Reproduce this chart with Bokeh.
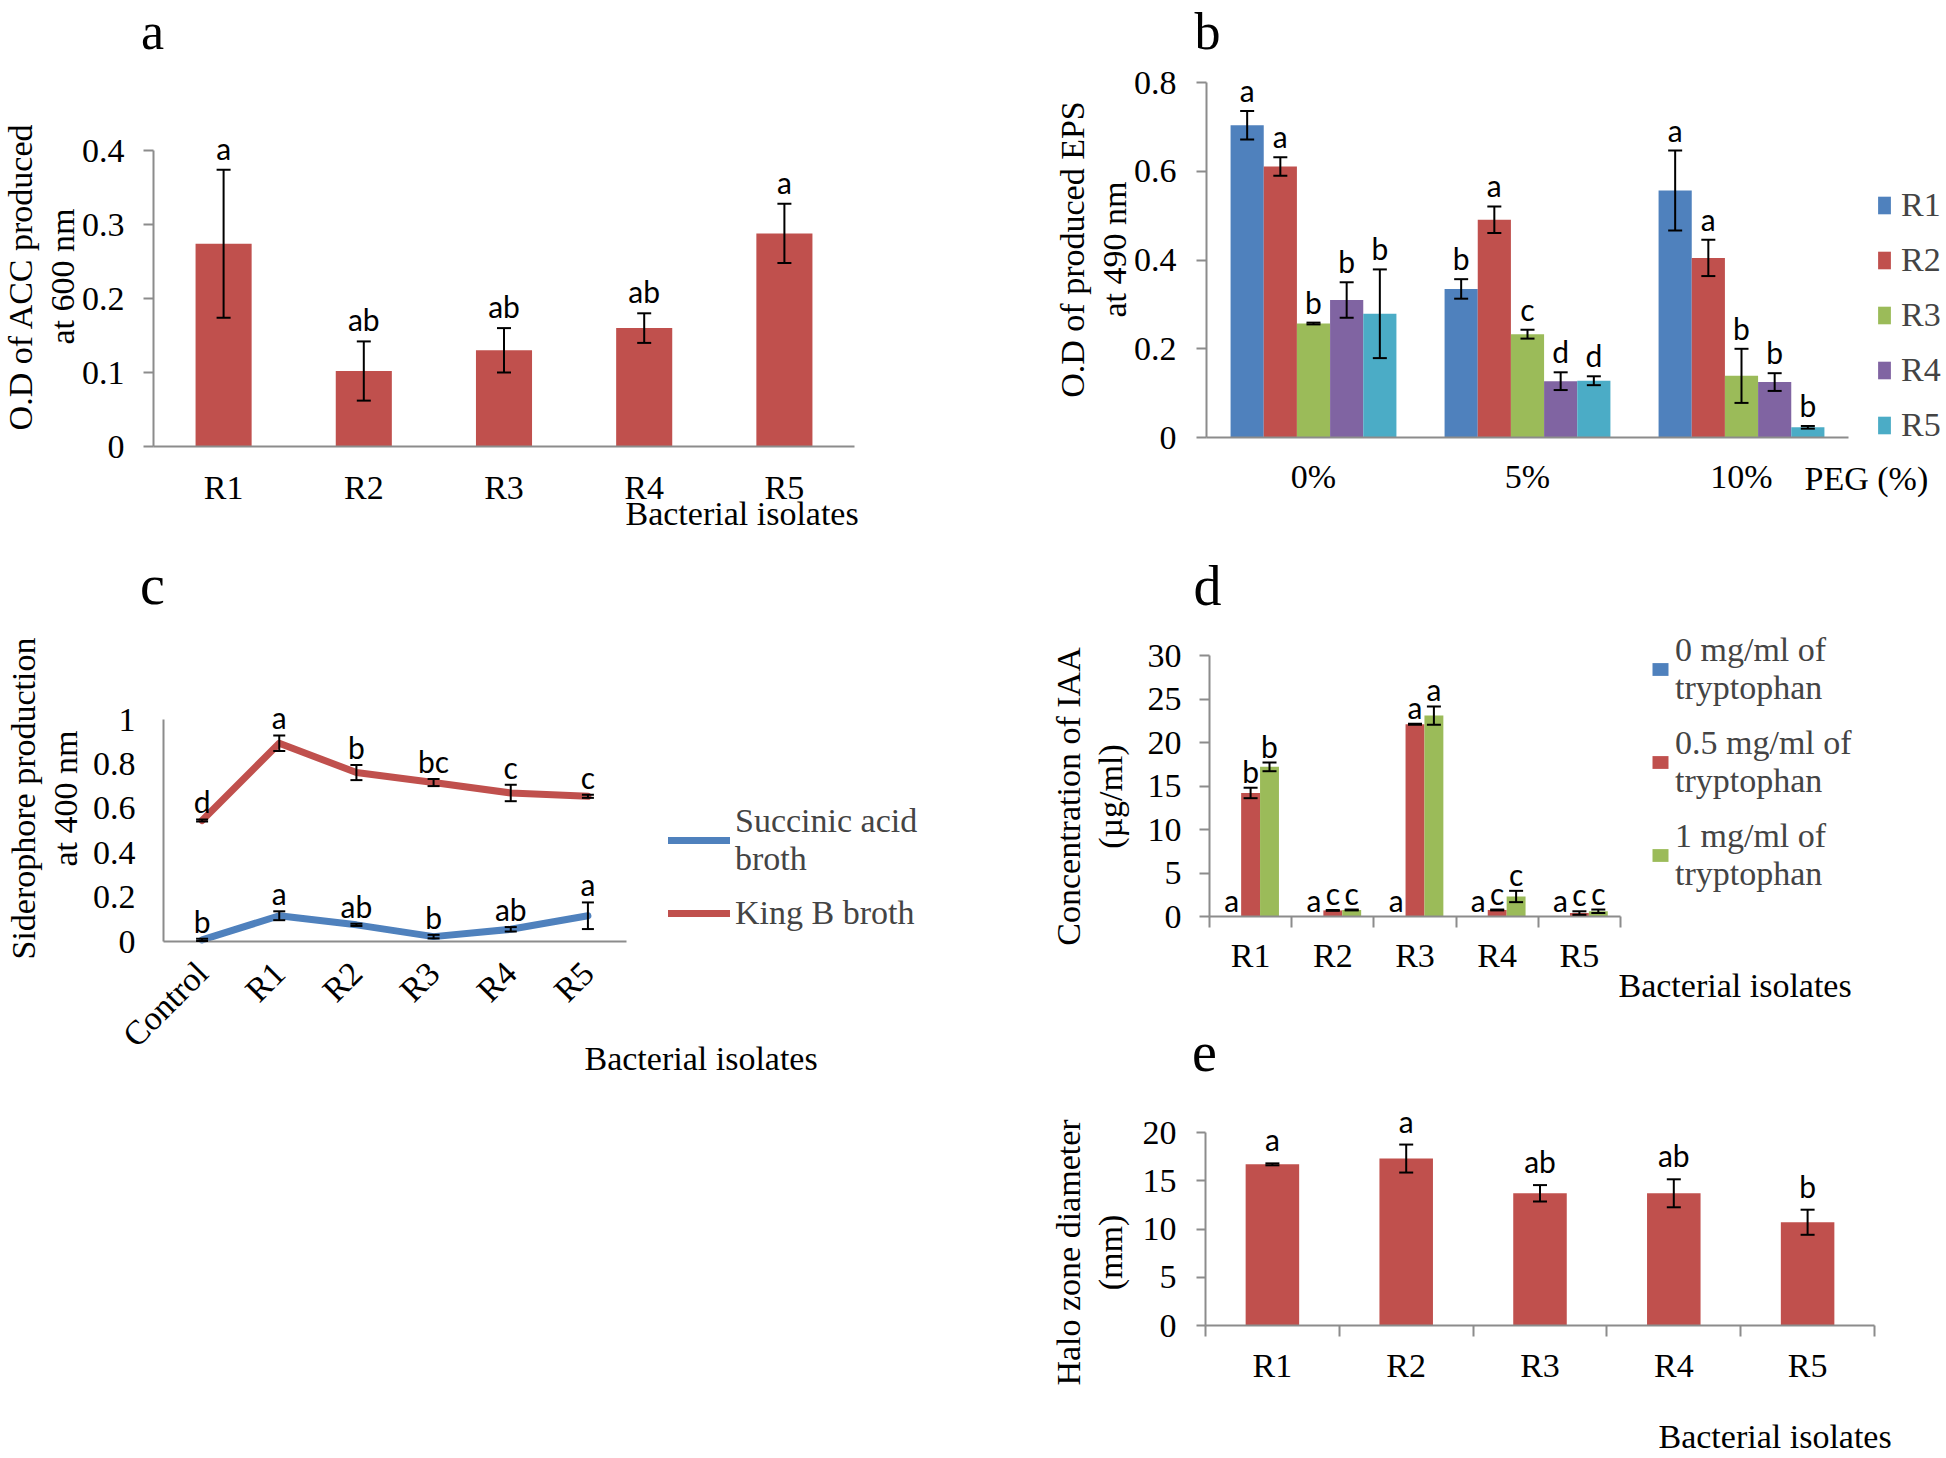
import math
from bokeh.plotting import figure
from bokeh.models import (Range1d, FixedTicker, Whisker, TeeHead, ColumnDataSource,
                          Label, Legend, LegendItem)
from bokeh.layouts import row, column
from bokeh.core.properties import value
from bokeh.embed import file_html
from bokeh.resources import INLINE

# ---------------- data ----------------
# (a) ACC
a_cats = ["R1", "R2", "R3", "R4", "R5"]
a_vals = [0.274, 0.102, 0.130, 0.160, 0.288]
a_err = [0.100, 0.040, 0.030, 0.020, 0.040]
a_sig = ["a", "ab", "ab", "ab", "a"]
a_yticks = [0, 0.1, 0.2, 0.3, 0.4]
a_yticklabels = ["0", "0.1", "0.2", "0.3", "0.4"]

# (b) EPS
b_cats = ["0%", "5%", "10%"]
b_series = ["R1", "R2", "R3", "R4", "R5"]
b_R1 = [0.704, 0.335, 0.557]
b_R2 = [0.611, 0.491, 0.405]
b_R3 = [0.257, 0.233, 0.139]
b_R4 = [0.310, 0.127, 0.125]
b_R5 = [0.279, 0.128, 0.023]
b_R1_err = [0.032, 0.022, 0.090]
b_R2_err = [0.021, 0.030, 0.041]
b_R3_err = [0.002, 0.010, 0.061]
b_R4_err = [0.040, 0.020, 0.020]
b_R5_err = [0.100, 0.010, 0.003]
b_R1_sig = ["a", "b", "a"]
b_R2_sig = ["a", "a", "a"]
b_R3_sig = ["b", "c", "b"]
b_R4_sig = ["b", "d", "b"]
b_R5_sig = ["b", "d", "b"]
b_yticks = [0, 0.2, 0.4, 0.6, 0.8]
b_yticklabels = ["0", "0.2", "0.4", "0.6", "0.8"]

# (c) Siderophore
c_cats = ["Control", "R1", "R2", "R3", "R4", "R5"]
c_succ = [0.007, 0.116, 0.075, 0.022, 0.055, 0.116]
c_succ_err = [0.005, 0.020, 0.005, 0.008, 0.010, 0.060]
c_succ_sig = ["b", "a", "ab", "b", "ab", "a"]
c_king = [0.545, 0.893, 0.761, 0.716, 0.669, 0.654]
c_king_err = [0.005, 0.035, 0.034, 0.016, 0.037, 0.007]
c_king_sig = ["d", "a", "b", "bc", "c", "c"]
c_yticks = [0, 0.2, 0.4, 0.6, 0.8, 1]
c_yticklabels = ["0", "0.2", "0.4", "0.6", "0.8", "1"]

# (d) IAA
d_cats = ["R1", "R2", "R3", "R4", "R5"]
d_series = ["0 mg/ml of\ntryptophan", "0.5 mg/ml of\ntryptophan", "1 mg/ml of\ntryptophan"]
d_t0 = [0, 0, 0, 0, 0]
d_t05 = [14.2, 0.70, 22.1, 0.75, 0.40]
d_t1 = [17.2, 0.75, 23.1, 2.30, 0.60]
d_t0_err = [0, 0, 0, 0, 0]
d_t05_err = [0.60, 0.05, 0.05, 0.05, 0.20]
d_t1_err = [0.50, 0.05, 1.05, 0.65, 0.20]
d_t0_sig = ["a", "a", "a", "a", "a"]
d_t05_sig = ["b", "c", "a", "c", "c"]
d_t1_sig = ["b", "c", "a", "c", "c"]
d_yticks = [0, 5, 10, 15, 20, 25, 30]
d_yticklabels = ["0", "5", "10", "15", "20", "25", "30"]

# (e) Halo zone
e_cats = ["R1", "R2", "R3", "R4", "R5"]
e_vals = [16.7, 17.3, 13.7, 13.7, 10.7]
e_err = [0.10, 1.45, 0.85, 1.45, 1.30]
e_sig = ["a", "a", "ab", "ab", "b"]
e_yticks = [0, 5, 10, 15, 20]
e_yticklabels = ["0", "5", "10", "15", "20"]

# ---------------- styling ----------------
FONT = "Liberation Serif"
SIG_FONT = "Lato"
AXIS_COLOR = "#8C8C8C"
BLUE, RED, GREEN, PURPLE, CYAN = "#4F81BD", "#C0504D", "#9BBB59", "#8064A2", "#4BACC6"


def make_panel(box, L, R, n, Z, ppu):
    """box: figure box in page px; L/R: x-axis ends; Z: y of value 0; ppu: px per unit."""
    bx, by, bw, bh = box
    ppx = (R - L) / n
    x0 = -0.5 - (L - bx) / ppx
    x1 = -0.5 + (bx + bw - L) / ppx
    y0 = (Z - (by + bh)) / ppu
    y1 = (Z - by) / ppu
    p = figure(width=bw, height=bh, x_range=Range1d(x0, x1), y_range=Range1d(y0, y1),
               output_backend="svg", toolbar_location=None,
               min_border_left=0, min_border_right=0, min_border_top=0, min_border_bottom=0)
    p.xgrid.visible = False
    p.ygrid.visible = False
    p.outline_line_color = None
    g = dict(bx=bx, by=by, bw=bw, bh=bh, L=L, ppx=ppx, Z=Z, ppu=ppu, n=n)
    return p, g


def at(g, px, py):
    return -0.5 + (px - g["L"]) / g["ppx"], (g["Z"] - py) / g["ppu"]


def add_text(p, g, px, py, text, size="34px", font=FONT, align="left", baseline="middle",
             angle=0.0):
    x, y = at(g, px, py)
    p.add_layout(Label(x=x, y=y, text=text, text_font=font, text_font_size=size,
                       text_align=align, text_baseline=baseline, text_color="black",
                       angle=angle, text_line_height=1.15))


def style_axes(p, g, xlabels, yticks, ylabels, ytick_out=10, ystand=18,
               xstand=20, minor=False, xorient="horizontal"):
    n = g["n"]
    xa, ya = p.xaxis[0], p.yaxis[0]
    for ax in (xa, ya):
        ax.axis_line_color = AXIS_COLOR
        ax.axis_line_width = 2
        ax.major_tick_line_color = AXIS_COLOR
        ax.major_tick_line_width = 2
        ax.minor_tick_line_color = None
        ax.major_label_text_font = FONT
        ax.major_label_text_font_size = "34px"
        ax.major_label_text_color = "black"
    xticks = list(range(n))
    bnds = [i - 0.5 for i in range(n + 1)]
    xa.ticker = FixedTicker(ticks=xticks, minor_ticks=bnds if minor else [])
    xa.major_label_overrides = {t: s for t, s in zip(xticks, xlabels)}
    xa.major_tick_out = 0
    xa.major_tick_in = 0
    xa.major_label_standoff = xstand
    xa.major_label_orientation = xorient
    xa.fixed_location = 0
    xa.bounds = (-0.5, n - 0.5)
    if minor:
        xa.minor_tick_line_color = AXIS_COLOR
        xa.minor_tick_line_width = 2
        xa.minor_tick_out = 11
        xa.minor_tick_in = 0
    ya.ticker = FixedTicker(ticks=list(yticks))
    ya.major_label_overrides = {t: s for t, s in zip(yticks, ylabels)}
    ya.bounds = (yticks[0], yticks[-1])
    ya.fixed_location = -0.5
    ya.major_tick_out = ytick_out
    ya.major_tick_in = 0
    ya.major_label_standoff = ystand


def add_err(p, xs, vals, errs, head=14):
    keep = [i for i, e in enumerate(errs) if e > 0]
    src = ColumnDataSource(dict(x=[xs[i] for i in keep],
                                lo=[vals[i] - errs[i] for i in keep],
                                hi=[vals[i] + errs[i] for i in keep]))
    w = Whisker(source=src, base="x", upper="hi", lower="lo", dimension="height",
                line_color="black", line_width=2, level="annotation",
                upper_head=TeeHead(size=head, line_color="black", line_width=2),
                lower_head=TeeHead(size=head, line_color="black", line_width=2))
    p.add_layout(w)


def add_sig(p, xs, vals, errs, texts, yoff=-10, size="30px"):
    src = ColumnDataSource(dict(x=list(xs), y=[v + e for v, e in zip(vals, errs)], t=texts))
    p.text(x="x", y="y", text="t", source=src, text_font=value(SIG_FONT),
           text_font_size=size, text_align="center", text_baseline="alphabetic",
           y_offset=yoff, text_color="black")


def legend_at(g, items, left_px, bottom_px, line_height=1.3, **kw):
    loc = (left_px - g["bx"], g["by"] + g["bh"] - bottom_px)
    return Legend(items=items, location=loc, padding=0, margin=0, label_text_font=FONT,
                  label_text_font_size="34px", border_line_color=None,
                  background_fill_alpha=0, label_text_line_height=line_height, **kw)


ROT = math.pi / 2

# ---------------- panel a ----------------
pa, ga = make_panel((0, 0, 960, 540), 153, 854, len(a_cats), 446, 740)
xa_pos = list(range(len(a_cats)))
pa.vbar(x=xa_pos, top=a_vals, bottom=0, width=0.4, fill_color=RED, line_color=None)
add_err(pa, xa_pos, a_vals, a_err)
add_sig(pa, xa_pos, a_vals, a_err, a_sig, -22)
style_axes(pa, ga, a_cats, a_yticks, a_yticklabels, ytick_out=10, ystand=19, xstand=22)
add_text(pa, ga, 41, 276, "O.D of ACC produced\nat 600 nm", align="center", angle=ROT)
add_text(pa, ga, 152, 31, "a", size="52px", align="center", baseline="middle")
add_text(pa, ga, 625, 513, "Bacterial isolates")

# ---------------- panel b ----------------
pb, gb = make_panel((960, 0, 984, 540), 1206, 1848, len(b_cats), 437, 443.5)
b_vals = [b_R1, b_R2, b_R3, b_R4, b_R5]
b_errs = [b_R1_err, b_R2_err, b_R3_err, b_R4_err, b_R5_err]
b_sigs = [b_R1_sig, b_R2_sig, b_R3_sig, b_R4_sig, b_R5_sig]
b_cols = [BLUE, RED, GREEN, PURPLE, CYAN]
b_offs = [-0.31, -0.155, 0.0, 0.155, 0.31]
b_rend = []
for vals, errs, sigs, col, off in zip(b_vals, b_errs, b_sigs, b_cols, b_offs):
    xs = [i + off for i in range(len(b_cats))]
    r = pb.vbar(x=xs, top=vals, bottom=0, width=0.155, fill_color=col, line_color=None)
    b_rend.append(r)
    add_err(pb, xs, vals, errs)
    add_sig(pb, xs, vals, errs, sigs, -21)
style_axes(pb, gb, b_cats, b_yticks, b_yticklabels, ytick_out=10, ystand=20, xstand=20)
pb.add_layout(legend_at(gb, [LegendItem(label=s, renderers=[r]) for s, r in zip(b_series, b_rend)],
                        1876, 444, glyph_width=16, glyph_height=22, label_standoff=9, spacing=17))
add_text(pb, gb, 1093, 249, "O.D of produced EPS\nat 490 nm", align="center", angle=ROT)
add_text(pb, gb, 1207, 31, "b", size="52px", align="center", baseline="middle")
add_text(pb, gb, 1804, 478, "PEG (%)")

# ---------------- panel c ----------------
pc, gc = make_panel((0, 540, 960, 560), 163, 626, len(c_cats), 941, 222)
xc_pos = list(range(len(c_cats)))
r_succ = pc.line(x=xc_pos, y=c_succ, line_width=7, line_color=BLUE, line_cap="round",
                 line_join="round")
r_king = pc.line(x=xc_pos, y=c_king, line_width=7, line_color=RED, line_cap="round",
                 line_join="round")
add_err(pc, xc_pos, c_succ, c_succ_err, 12)
add_err(pc, xc_pos, c_king, c_king_err, 12)
add_sig(pc, xc_pos, c_succ, c_succ_err, c_succ_sig, -18)
add_sig(pc, xc_pos, c_king, c_king_err, c_king_sig, -18)
style_axes(pc, gc, c_cats, c_yticks, c_yticklabels, ytick_out=0, ystand=28, xstand=26,
           xorient=math.pi / 4)
pc.add_layout(legend_at(gc, [LegendItem(label="Succinic acid\nbroth", renderers=[r_succ]),
                             LegendItem(label="King B broth", renderers=[r_king])],
                        668, 932, glyph_width=62, glyph_height=20, label_standoff=5, spacing=16))
add_text(pc, gc, 44, 798, "Siderophore production\nat 400 nm", align="center", angle=ROT)
add_text(pc, gc, 152, 584, "c", size="56px", align="center", baseline="alphabetic")
add_text(pc, gc, 584, 1058, "Bacterial isolates")

# ---------------- panel d ----------------
pd_, gd = make_panel((960, 540, 984, 468), 1209, 1620, len(d_cats), 916, 8.7)
d_vals = [d_t0, d_t05, d_t1]
d_errs = [d_t0_err, d_t05_err, d_t1_err]
d_sigs = [d_t0_sig, d_t05_sig, d_t1_sig]
d_cols = [BLUE, RED, GREEN]
d_offs = [-0.23, 0.0, 0.23]
d_rend = []
for vals, errs, sigs, col, off in zip(d_vals, d_errs, d_sigs, d_cols, d_offs):
    xs = [i + off for i in range(len(d_cats))]
    r = pd_.vbar(x=xs, top=vals, bottom=0, width=0.23, fill_color=col, line_color=None)
    d_rend.append(r)
    add_err(pd_, xs, vals, errs)
    add_sig(pd_, xs, vals, errs, sigs, -17)
style_axes(pd_, gd, d_cats, d_yticks, d_yticklabels, ytick_out=10, ystand=18, xstand=9,
           minor=True)
pd_.add_layout(legend_at(gd, [LegendItem(label=s, renderers=[r]) for s, r in zip(d_series, d_rend)],
                         1650, 893, line_height=1.38, glyph_width=20, glyph_height=16,
                         label_standoff=5, spacing=17))
add_text(pd_, gd, 1089, 796, "Concentration of IAA\n(\u00b5g/ml)", align="center", angle=ROT)
add_text(pd_, gd, 1207, 585, "d", size="56px", align="center", baseline="alphabetic")
add_text(pd_, gd, 1618, 985, "Bacterial isolates")

# ---------------- panel e ----------------
pe, ge = make_panel((960, 1008, 984, 448), 1205, 1874, len(e_cats), 1325, 9.65)
xe_pos = list(range(len(e_cats)))
pe.vbar(x=xe_pos, top=e_vals, bottom=0, width=0.4, fill_color=RED, line_color=None)
add_err(pe, xe_pos, e_vals, e_err)
add_sig(pe, xe_pos, e_vals, e_err, e_sig, -24)
style_axes(pe, ge, e_cats, e_yticks, e_yticklabels, ytick_out=9, ystand=20, xstand=10,
           minor=True)
add_text(pe, ge, 1089, 1252, "Halo zone diameter\n(mm)", align="center", angle=ROT)
add_text(pe, ge, 1204, 1051, "e", size="56px", align="center", baseline="alphabetic")
add_text(pe, ge, 1658, 1436, "Bacterial isolates")

layout = row(column(pa, pc), column(pb, pd_, pe))
open("out.html", "w").write(file_html(layout, INLINE))
